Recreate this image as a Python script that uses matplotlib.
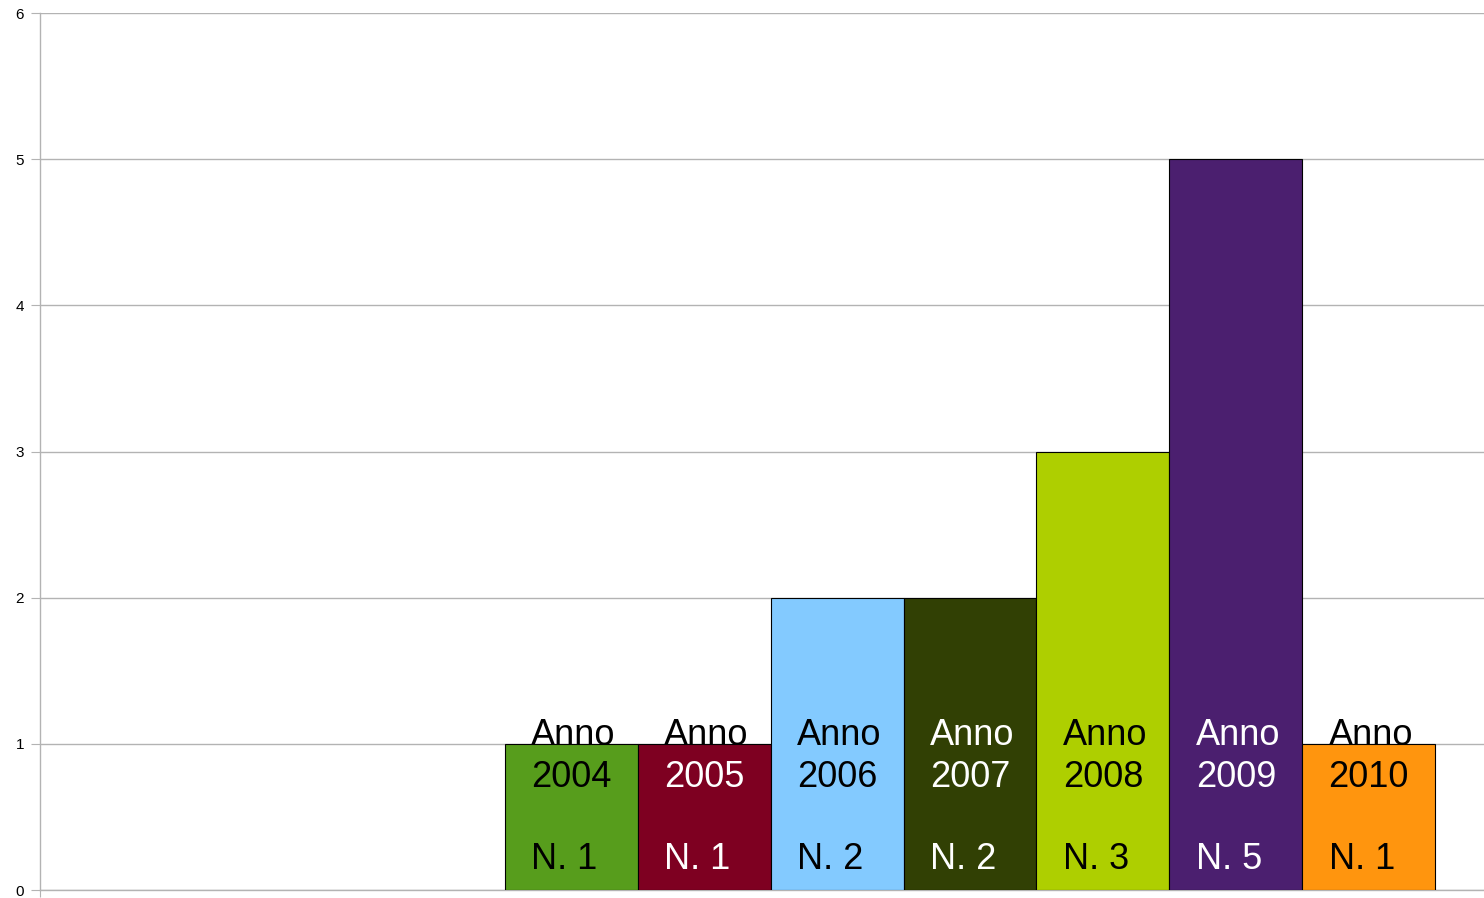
import matplotlib.pyplot as plt
from matplotlib.transforms import offset_copy

anni = ['2004', '2005', '2006', '2007', '2008', '2009', '2010']
valori = [1, 1, 2, 2, 3, 5, 1]
colori = ['#579d1c', '#7e0021', '#83caff', '#314004', '#aecf00', '#4b1f6f', '#ff950e']
testo = ['black', 'white', 'black', 'white', 'black', 'white', 'black']
posizioni = [4, 5, 6, 7, 8, 9, 10]

plt.rcParams['font.family'] = ['Liberation Sans', 'DejaVu Sans']

fig = plt.figure(figsize=(14.84, 8.98), dpi=100)
ax = fig.add_axes([40 / 1484, 8 / 898, 1444 / 1484, 877 / 898])

ax.bar(posizioni, valori, width=1, color=colori, edgecolor='black', linewidth=0.8, zorder=3)

ax.set_xlim(0, 1444 / 132.86)
ax.set_ylim(0, 6)
ax.set_yticks(range(7))
ax.set_xticks([0])
ax.set_xticklabels([])
ax.grid(axis='y', color='#b3b3b3', linewidth=1, zorder=0)
ax.tick_params(axis='y', length=6.5, color='#b3b3b3', labelsize=11, pad=5)
ax.tick_params(axis='x', length=5, color='#b3b3b3')
for s in ['top', 'right']:
    ax.spines[s].set_visible(False)
for s in ['left', 'bottom']:
    ax.spines[s].set_color('#b3b3b3')
    ax.spines[s].set_linewidth(1)

for p, v, a, c in zip(posizioni, valori, anni, testo):
    x0 = p - 0.5
    # "Anno" sta sopra la barra quando il valore e' 1
    c_anno = 'black' if v < 2 else c
    righe = [('Anno', 104.4, c_anno), (a, 74.2, c), ('N. %d' % v, 15.1, c)]
    for s, dy, col in righe:
        tr = offset_copy(ax.transData, fig=fig, x=19, y=dy, units='points')
        ax.text(x0, 0, s, transform=tr, fontsize=26, color=col,
                ha='left', va='baseline', zorder=4)

fig.savefig('out.png', dpi=100)
